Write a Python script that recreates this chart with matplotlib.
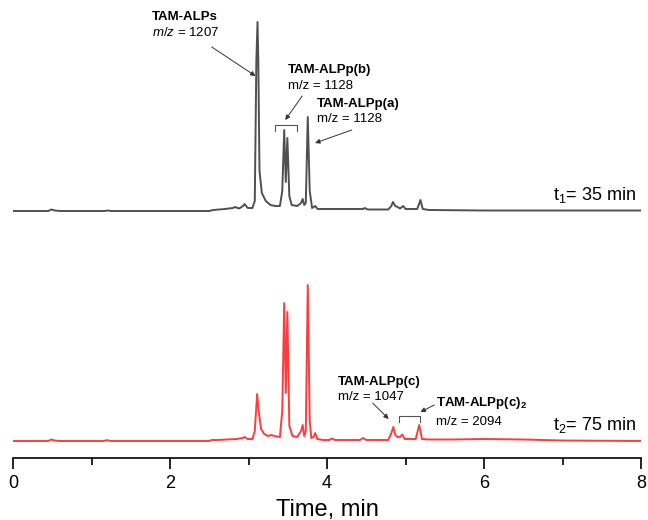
import matplotlib
matplotlib.use("Agg")
import matplotlib.pyplot as plt
import numpy as np

plt.rcParams['font.family'] = ['Liberation Sans', 'DejaVu Sans']
plt.rcParams['mathtext.fontset'] = 'custom'
plt.rcParams['mathtext.rm'] = 'Liberation Sans'
plt.rcParams['mathtext.it'] = 'Liberation Sans:italic'
plt.rcParams['mathtext.bf'] = 'Liberation Sans:bold'

# ---- data (time in min, signal in arbitrary units above each baseline) ----
t_35 = [0.00, 0.45, 0.49, 0.53, 0.60, 1.17, 1.20, 1.25, 2.50, 2.55, 2.70, 2.80, 2.83,
        2.88, 2.93, 2.95, 2.99, 3.05, 3.08, 3.10, 3.115, 3.125, 3.14, 3.17, 3.22,
        3.28, 3.34, 3.40, 3.43, 3.455, 3.475, 3.495, 3.52, 3.55, 3.62, 3.67, 3.69,
        3.71, 3.73, 3.755, 3.78, 3.81, 3.85, 3.88, 4.00, 4.46, 4.48, 4.52, 4.78,
        4.82, 4.84, 4.87, 4.90, 4.93, 4.97, 5.00, 5.15, 5.19, 5.22, 5.30, 6.00, 8.00]
sig_35 = [0.0, 0.0, 1.5, 0.5, 0.0, 0.0, 0.5, 0.0, 0.0, 1.0, 2.0, 3.0, 4.0,
          2.5, 5.0, 7.0, 3.0, 3.0, 10.0, 150.0, 189.0, 150.0, 40.0, 18.0, 10.0,
          6.0, 5.0, 5.0, 20.0, 81.0, 29.0, 73.0, 15.0, 6.0, 5.0, 8.0, 12.0,
          6.0, 8.0, 94.0, 20.0, 3.0, 5.0, 2.0, 2.0, 2.0, 3.0, 1.5, 1.5,
          5.0, 9.0, 5.0, 4.0, 2.5, 5.0, 2.0, 2.0, 11.0, 2.0, 1.0, 0.5, 0.5]

t_75 = [0.00, 0.45, 0.49, 0.53, 0.60, 1.15, 1.20, 1.25, 2.50, 2.53, 2.60, 2.85, 2.93,
        2.95, 2.99, 3.05, 3.08, 3.11, 3.13, 3.16, 3.20, 3.25, 3.29, 3.33, 3.40,
        3.43, 3.455, 3.475, 3.495, 3.52, 3.56, 3.62, 3.67, 3.69, 3.71, 3.73, 3.755,
        3.78, 3.80, 3.83, 3.85, 3.875, 3.95, 4.03, 4.06, 4.10, 4.42, 4.46, 4.50,
        4.78, 4.82, 4.845, 4.87, 4.90, 4.93, 4.96, 4.99, 5.13, 5.175, 5.21, 5.30,
        5.60, 6.00, 6.50, 7.00, 8.00]
sig_75 = [0.0, 0.0, 1.5, 0.5, 0.0, 0.0, 0.8, 0.0, 0.0, 1.0, 1.0, 2.0, 3.0,
          4.0, 2.0, 2.0, 10.0, 47.0, 30.0, 12.0, 7.0, 5.0, 6.0, 5.0, 4.0,
          30.0, 138.0, 48.0, 129.0, 15.0, 5.0, 4.0, 10.0, 16.0, 5.0, 10.0, 156.0,
          20.0, 3.0, 4.0, 8.0, 2.0, 1.0, 1.0, 2.5, 1.0, 1.0, 3.0, 1.0,
          1.0, 8.0, 14.0, 6.0, 4.0, 4.0, 6.5, 2.0, 2.0, 16.0, 2.0, 1.5,
          1.5, 2.0, 1.5, 0.5, 0.0]

offset_35 = 247
offset_75 = 17

fig = plt.figure(figsize=(6.48, 5.2), dpi=100)
ax = fig.add_axes([13/648, 62/520, 628/648, 458/520])
ax.set_xlim(0, 8)
ax.set_ylim(0, 458)

ax.plot(t_35, np.array(sig_35) + offset_35, color='#505050', lw=1.4, solid_joinstyle='round')
ax.plot(t_75, np.array(sig_75) + offset_75, color='#ff3c3c', lw=1.4, solid_joinstyle='round')

for s in ['top', 'right', 'left']:
    ax.spines[s].set_visible(False)
ax.spines['bottom'].set_linewidth(1.2)
ax.set_yticks([])
ax.set_xticks([0, 2, 4, 6, 8])
ax.set_xticks([1, 3, 5, 7], minor=True)
ax.tick_params(axis='x', which='major', direction='out', length=8, width=1.2,
               labelsize=13, pad=4)
ax.tick_params(axis='x', which='minor', direction='out', length=5, width=1.2)
ax.set_xlabel('Time, min', fontsize=17, labelpad=5)

fs = 9.5
ac = '#333333'
arrow = dict(arrowstyle='-|>', lw=0.7, color=ac, mutation_scale=7, shrinkA=0, shrinkB=0)

# top annotations
ax.text(1.772, 441, 'TAM-ALPs', fontsize=fs, fontweight='bold', ha='left', va='center')
ax.text(1.772, 425, '$m/z$ = 1207', fontsize=fs, ha='left', va='center')
ax.annotate('', xy=(3.089, 382), xytext=(2.532, 411), arrowprops=arrow)

ax.text(3.506, 388, 'TAM-ALPp(b)', fontsize=fs, fontweight='bold', ha='left', va='center')
ax.text(3.506, 372, 'm/z = 1128', fontsize=fs, ha='left', va='center')
ax.annotate('', xy=(3.468, 338), xytext=(3.684, 362), arrowprops=arrow)
ax.plot([3.342, 3.342, 3.620, 3.620], [327, 333, 333, 327], color='#555555', lw=0.8)

ax.text(3.873, 354, 'TAM-ALPp(a)', fontsize=fs, fontweight='bold', ha='left', va='center')
ax.text(3.873, 339, 'm/z = 1128', fontsize=fs, ha='left', va='center')
ax.annotate('', xy=(3.848, 315), xytext=(4.316, 328), arrowprops=arrow)

# bottom annotations
ax.text(4.139, 76, 'TAM-ALPp(c)', fontsize=fs, fontweight='bold', ha='left', va='center')
ax.text(4.139, 61, 'm/z = 1047', fontsize=fs, ha='left', va='center')
ax.annotate('', xy=(4.785, 39), xytext=(4.582, 55), arrowprops=arrow)
ax.plot([4.911, 4.911, 5.190, 5.190], [36, 42, 42, 36], color='#555555', lw=0.8)

ax.text(5.392, 55, r'TAM-ALPp(c)$_\mathbf{2}$', fontsize=fs, fontweight='bold', ha='left', va='center')
ax.text(5.392, 36, 'm/z = 2094', fontsize=fs, ha='left', va='center')
ax.annotate('', xy=(5.19, 46), xytext=(5.367, 53), arrowprops=arrow)

ax.text(7.94, 263, r't$_1$= 35 min', fontsize=13, ha='right', va='center')
ax.text(7.94, 33, r't$_2$= 75 min', fontsize=13, ha='right', va='center')

fig.savefig('out.png', dpi=100)
